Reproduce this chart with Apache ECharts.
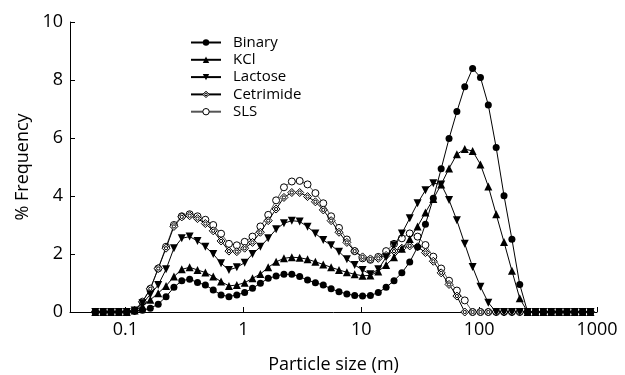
<!DOCTYPE html>
<html>
<head>
<meta charset="utf-8">
<script src="https://cdn.jsdelivr.net/npm/echarts@6/dist/echarts.min.js"></script>
<style>html,body{margin:0;padding:0;background:#fff}#c{width:625px;height:375px}</style>
</head>
<body>
<div id="c"></div>
<script>
// Particle sizes (µm), log-spaced bins
const sizes = [0.0556,0.0648,0.0755,0.0881,0.1027,0.1197,0.1396,0.1627,0.1898,0.2212,
  0.2580,0.3008,0.3507,0.4089,0.4768,0.5559,0.6481,0.7557,0.8810,1.027,
  1.197,1.396,1.627,1.898,2.212,2.580,3.008,3.507,4.089,4.768,
  5.559,6.481,7.557,8.810,10.27,11.97,13.96,16.27,18.98,22.12,
  25.80,30.08,35.07,40.89,47.68,55.59,64.81,75.57,88.10,102.7,
  119.7,139.6,162.7,189.8,221.2,258.0,300.8,350.7,408.9,476.8,
  555.9,648.1,755.7,881.0];

const binary = [0,0,0,0,0.01,0.03,0.06,0.13,0.27,0.53,
  0.85,1.08,1.13,1.02,0.93,0.76,0.59,0.53,0.59,0.67,
  0.82,0.99,1.16,1.24,1.30,1.30,1.22,1.10,1.01,0.93,
  0.80,0.70,0.62,0.57,0.55,0.57,0.67,0.85,1.08,1.35,
  1.72,2.24,3.03,3.92,4.94,5.98,6.91,7.77,8.40,8.09,
  7.14,5.67,4.01,2.51,0.95,0,0,0,0,0,
  0,0,0,0];

const kcl = [0,0,0,0,0,0.05,0.2,0.42,0.65,0.9,
  1.22,1.47,1.54,1.45,1.36,1.22,1.05,0.90,0.93,1.01,
  1.16,1.31,1.54,1.73,1.85,1.89,1.87,1.82,1.73,1.64,
  1.54,1.45,1.37,1.30,1.25,1.26,1.40,1.62,1.89,2.18,
  2.52,2.95,3.43,3.90,4.40,4.95,5.44,5.62,5.55,5.09,
  4.33,3.37,2.41,1.42,0.47,0,0,0,0,0,
  0,0,0,0];

const lactose = [0,0,0,0,0,0.05,0.3,0.6,0.93,1.47,
  2.2,2.54,2.6,2.45,2.25,2.0,1.68,1.45,1.54,1.70,
  2.0,2.25,2.54,2.85,3.06,3.15,3.12,2.94,2.71,2.48,
  2.3,2.08,1.82,1.62,1.45,1.30,1.47,1.89,2.3,2.71,
  3.23,3.75,4.2,4.44,4.4,3.86,3.16,2.35,1.55,0.87,
  0.32,0,0,0,0,0,0,0,0,0,
  0,0,0,0];

const cetrimide = [0,0,0,0,0,0.05,0.35,0.8,1.5,2.2,
  2.95,3.28,3.32,3.22,3.05,2.8,2.45,2.1,2.08,2.2,
  2.4,2.75,3.15,3.55,3.95,4.12,4.12,3.98,3.8,3.52,
  3.15,2.75,2.4,2.1,1.9,1.83,1.85,1.95,2.1,2.2,
  2.28,2.25,2.05,1.75,1.35,0.95,0.55,0,0,0,
  0,0,0,0,0,0,0,0,0,0,
  0,0,0,0];

const sls = [0,0,0,0,0,0.05,0.35,0.8,1.5,2.25,
  3.0,3.3,3.37,3.3,3.18,3.0,2.7,2.35,2.3,2.42,
  2.6,2.95,3.35,3.85,4.3,4.5,4.52,4.4,4.1,3.75,
  3.3,2.9,2.5,2.1,1.85,1.8,1.9,2.1,2.35,2.54,
  2.71,2.6,2.31,1.91,1.5,1.08,0.74,0.4,0,0,
  0,0,0,0,0,0,0,0,0,0,
  0,0,0,0];

const xTickLabels = ['0.1','1','10','100','1000'];
const yTicks = [0,2,4,6,8,10];

const FONT = '"Open Sans", "Noto Sans", sans-serif';
function pts(arr){ return sizes.map((s,i)=>[s, arr[i]]); }

const downTri = 'path://M0,0L10,0L5,9Z';
const diamondCircle = 'path://M10,0L20,10L10,20L0,10Z M14,10A4,4,0,1,1,6,10A4,4,0,1,1,14,10Z';

function mk(name, data, symbol, size, fill, z, lineColor){
  return {
    name, type:'line', data: pts(data), symbol, symbolSize: size, z,
    lineStyle:{color: lineColor||'#000', width:1},
    itemStyle:{color: fill, borderColor:'#000', borderWidth: fill==='#fff'?1:0},
    emphasis:{disabled:true}
  };
}

const openStyle = {color:'#fff', borderColor:'#000', borderWidth:1};

const chart = echarts.init(document.getElementById('c'), null, {renderer:'canvas'});
chart.setOption({
  animation:false,
  backgroundColor:'#fff',
  grid:{left:70, right:28, top:22, bottom:63, containLabel:false, outerBoundsMode:'none'},
  legend:{
    orient:'vertical', left:185, top:30,
    itemWidth:30, itemHeight:8, itemGap:2.3,
    textStyle:{fontFamily:FONT, fontSize:15, color:'#000', lineHeight:14, padding:[0,0,0,7]},
    data:[
      {name:'Binary'},
      {name:'KCl'},
      {name:'Lactose'},
      {name:'Cetrimide', itemStyle:openStyle},
      {name:'SLS', itemStyle:openStyle}
    ]
  },
  xAxis:{
    type:'log', logBase:10, min:0.0339, max:1000,
    name:'Particle size (m)', nameLocation:'middle', nameGap:44,
    nameTextStyle:{fontFamily:FONT, fontSize:18, color:'#000'},
    axisLine:{lineStyle:{color:'#000', width:1}},
    axisTick:{inside:true, length:5, lineStyle:{color:'#000'}},
    axisLabel:{fontFamily:FONT, fontSize:18, color:'#000', margin:9, showMinLabel:false,
      formatter:function(v){
        const l = Math.round(Math.log10(v));
        if (Math.abs(Math.log10(v)-l) > 0.01) return '';
        return xTickLabels[l+1] || '';
      }},
    splitLine:{show:false}, minorTick:{show:false}
  },
  yAxis:{
    type:'value', min:yTicks[0], max:yTicks[yTicks.length-1], interval:2,
    name:'% Frequency', nameLocation:'middle', nameGap:36,
    nameTextStyle:{fontFamily:FONT, fontSize:18, color:'#000'},
    axisLine:{show:true, lineStyle:{color:'#000', width:1}},
    axisTick:{show:true, inside:true, length:5, lineStyle:{color:'#000'}},
    axisLabel:{fontFamily:FONT, fontSize:18, color:'#000', margin:7},
    splitLine:{show:false}
  },
  series:[
    mk('Binary', binary, 'circle', 7, '#000', 10),
    mk('KCl', kcl, 'triangle', 8, '#000', 9),
    mk('Lactose', lactose, downTri, 8, '#000', 8),
    mk('Cetrimide', cetrimide, diamondCircle, 8, '#fff', 7),
    mk('SLS', sls, 'circle', 7, '#fff', 6, '#555')
  ]
});
</script>
</body>
</html>
